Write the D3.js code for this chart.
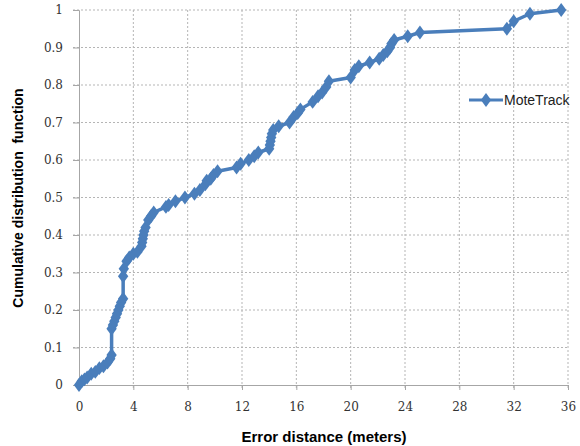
<!DOCTYPE html>
<html>
<head>
<meta charset="utf-8">
<script src="https://cdn.jsdelivr.net/npm/d3@7"></script>
<style>
  body { margin: 0; background: #fff; }
  svg { display: block; }
</style>
</head>
<body>
<div id="chart"></div>
<script>
// error distance (m) and cumulative fraction
let errDist = [0, 0.2, 0.4, 0.6, 0.9, 1.2, 1.5, 1.8, 2.1, 2.3, 2.4, 2.4, 2.5, 2.6, 2.7, 2.8, 2.9, 3.0, 3.1, 3.25,
    3.25, 3.3, 3.5, 3.7, 4.0, 4.3, 4.6, 4.65, 4.7, 4.75, 4.8, 4.9, 5.1, 5.3, 5.5, 6.4, 6.6, 7.1, 7.8, 8.5,
    8.9, 9.3, 9.4, 9.7, 9.9, 10.2, 11.6, 11.9, 12.5, 12.9, 13.2, 14.0, 14.05, 14.1, 14.15, 14.2, 14.3, 14.7, 15.5, 15.8,
    16.1, 16.3, 17.2, 17.6, 17.9, 18.2, 18.4, 20.0, 20.3, 20.6, 21.4, 22.1, 22.4, 22.7, 22.9, 23.0, 23.2, 24.2, 25.1, 31.5,
    32.0, 33.2, 35.5];
let cdf = [0, 0.01, 0.015, 0.02, 0.03, 0.035, 0.045, 0.05, 0.06, 0.07, 0.08, 0.15, 0.16, 0.17, 0.18, 0.19, 0.2, 0.21, 0.22, 0.23,
    0.29, 0.31, 0.33, 0.34, 0.35, 0.355, 0.37, 0.38, 0.39, 0.40, 0.41, 0.42, 0.44, 0.45, 0.46, 0.475, 0.48, 0.49, 0.50, 0.51,
    0.52, 0.535, 0.545, 0.55, 0.56, 0.57, 0.58, 0.59, 0.60, 0.61, 0.62, 0.63, 0.64, 0.65, 0.66, 0.67, 0.68, 0.69, 0.70, 0.715,
    0.725, 0.735, 0.755, 0.77, 0.78, 0.795, 0.81, 0.82, 0.84, 0.85, 0.86, 0.87, 0.88, 0.89, 0.90, 0.91, 0.92, 0.93, 0.94, 0.95,
    0.97, 0.99, 1.0];

let xTicks = [0, 4, 8, 12, 16, 20, 24, 28, 32, 36];
let yTicks = [0, 0.1, 0.2, 0.3, 0.4, 0.5, 0.6, 0.7, 0.8, 0.9, 1];
let seriesName = "MoteTrack";

const width = 580, height = 446;
const margin = {top: 10, right: 12, bottom: 61, left: 79};
const innerW = width - margin.left - margin.right;
const innerH = height - margin.top - margin.bottom;
const blue = "#4a7ebb";

let data = errDist.map((d, i) => ({x: d, y: cdf[i]}));

let svg = d3.select("#chart").append("svg")
    .attr("width", width)
    .attr("height", height);

let g = svg.append("g")
    .attr("transform", "translate(" + margin.left + "," + margin.top + ")");

let xScale = d3.scaleLinear().domain([0, 36]).range([0, innerW]);
let yScale = d3.scaleLinear().domain([0, 1]).range([innerH, 0]);

// dotted grid
g.selectAll(".vgrid").data(xTicks.slice(1))
    .enter().append("line")
    .attr("x1", d => xScale(d)).attr("x2", d => xScale(d))
    .attr("y1", 0).attr("y2", innerH + 5)
    .attr("stroke", "#b5b5b5").attr("stroke-dasharray", "2,2");

g.selectAll(".hgrid").data(yTicks.slice(1))
    .enter().append("line")
    .attr("x1", -6).attr("x2", innerW)
    .attr("y1", d => yScale(d)).attr("y2", d => yScale(d))
    .attr("stroke", "#b5b5b5").attr("stroke-dasharray", "2,2");

// axes
let xAxis = g.append("g")
    .attr("transform", "translate(0," + innerH + ")")
    .call(d3.axisBottom(xScale).tickValues(xTicks).tickSize(5).tickPadding(12).tickFormat(d3.format("d")));
let yAxis = g.append("g")
    .call(d3.axisLeft(yScale).tickValues(yTicks).tickSize(6).tickPadding(10).tickFormat(d => d === 0 ? "0" : d === 1 ? "1" : d3.format(".1f")(d)));

[xAxis, yAxis].forEach(a => {
    a.select(".domain").attr("stroke", "#a6a6a6");
    a.selectAll(".tick line").attr("stroke", "#a6a6a6");
    a.selectAll("text")
        .attr("font-family", "'DejaVu Serif', serif")
        .attr("font-size", 12)
        .attr("fill", "#333");
});

// series
g.append("path")
    .datum(data)
    .attr("fill", "none")
    .attr("stroke", blue)
    .attr("stroke-width", 3.5)
    .attr("stroke-linejoin", "round")
    .attr("d", d3.line().x(d => xScale(d.x)).y(d => yScale(d.y)));

// markers: slightly flattened diamonds
let diamond = d3.symbol().type(d3.symbolDiamond).size(55);
g.selectAll(".pt").data(data)
    .enter().append("path")
    .attr("class", "pt")
    .attr("transform", d => "translate(" + xScale(d.x) + "," + yScale(d.y) + ") scale(1.3,1)")
    .attr("d", diamond)
    .attr("fill", blue);

// legend
let legend = svg.append("g").attr("transform", "translate(469,100)");
legend.append("line")
    .attr("x1", 0).attr("x2", 34)
    .attr("stroke", blue).attr("stroke-width", 3);
legend.append("path")
    .attr("transform", "translate(17,0) scale(1.3,1)")
    .attr("d", diamond)
    .attr("fill", blue);
legend.append("text")
    .attr("x", 35).attr("y", 5)
    .attr("font-family", "'Liberation Sans', Arial, sans-serif")
    .attr("font-size", 14)
    .attr("fill", "#222")
    .text(seriesName);

// axis titles
svg.append("text")
    .attr("x", margin.left + 245).attr("y", 442)
    .attr("text-anchor", "middle")
    .attr("font-family", "'Liberation Sans', Arial, sans-serif")
    .attr("font-weight", "bold")
    .attr("font-size", 15)
    .text("Error distance (meters)");

svg.append("text")
    .attr("transform", "translate(23,198) rotate(-90)")
    .attr("text-anchor", "middle")
    .attr("font-family", "'Liberation Sans', Arial, sans-serif")
    .attr("font-weight", "bold")
    .attr("font-size", 14)
    .attr("xml:space", "preserve")
    .text("Cumulative distribution  function");
</script>
</body>
</html>
